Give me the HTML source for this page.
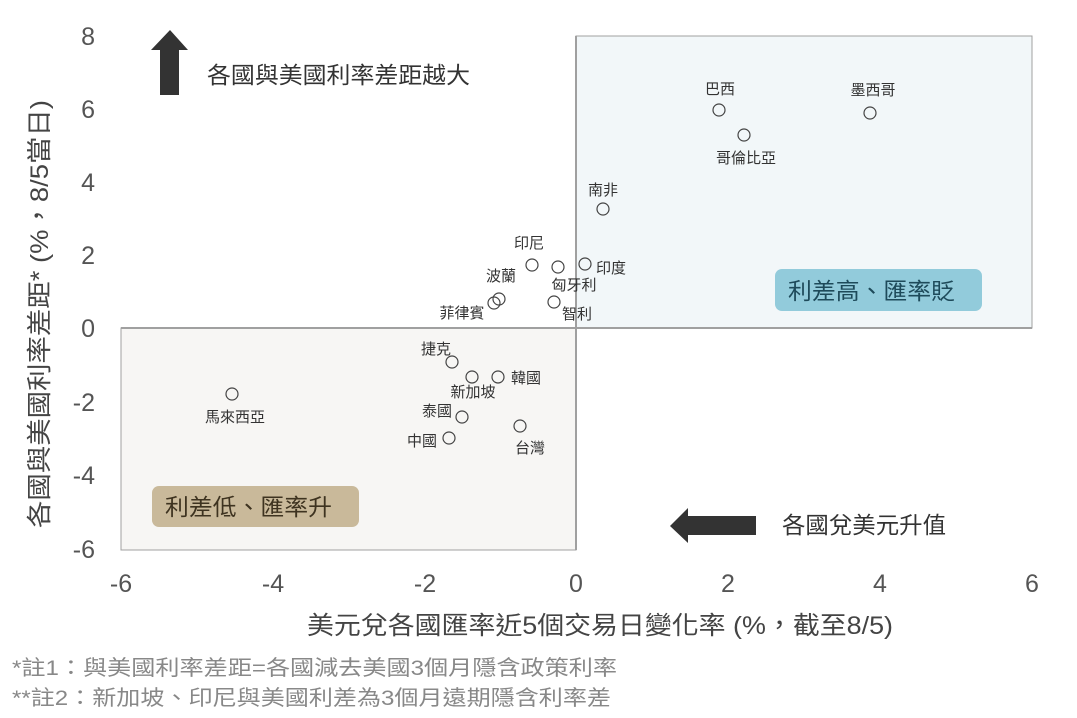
<!DOCTYPE html>
<html><head><meta charset="utf-8"><style>
html,body{margin:0;padding:0;background:#fff;}
svg{display:block;font-family:"Liberation Sans","Noto Sans CJK TC",sans-serif;}
</style></head><body>
<svg width="1077" height="718" viewBox="0 0 1077 718" xmlns="http://www.w3.org/2000/svg">
<rect x="576" y="36" width="456" height="292" fill="#f2f7f9" stroke="#a0a0a0" stroke-width="1"/>
<rect x="121" y="328" width="455" height="222" fill="#f7f6f4" stroke="#a0a0a0" stroke-width="1"/>
<line x1="121" y1="328" x2="1032" y2="328" stroke="#a0a0a0" stroke-width="2"/>
<line x1="576" y1="36" x2="576" y2="550" stroke="#a0a0a0" stroke-width="2"/>
<g fill="#555" font-size="25" text-anchor="end">
<text x="95" y="45">8</text><text x="95" y="118">6</text><text x="95" y="191">4</text><text x="95" y="264">2</text><text x="95" y="337">0</text><text x="95" y="411">-2</text><text x="95" y="484">-4</text><text x="95" y="558">-6</text>
</g>
<g fill="#555" font-size="25" text-anchor="middle">
<text x="121" y="592">-6</text><text x="273" y="592">-4</text><text x="425" y="592">-2</text><text x="576" y="592">0</text><text x="728" y="592">2</text><text x="880" y="592">4</text><text x="1032" y="592">6</text>
</g>
<text x="307" y="634" font-size="25" fill="#444" textLength="586" lengthAdjust="spacingAndGlyphs">美元兌各國匯率近5個交易日變化率 (%，截至8/5)</text>
<text transform="translate(48,528) rotate(-90)" font-size="25" fill="#444" textLength="428" lengthAdjust="spacingAndGlyphs">各國與美國利率差距* (%，8/5當日)</text>
<text x="12" y="675" font-size="21" fill="#888" textLength="605" lengthAdjust="spacingAndGlyphs">*註1：與美國利率差距=各國減去美國3個月隱含政策利率</text>
<text x="12" y="705" font-size="21" fill="#888" textLength="599" lengthAdjust="spacingAndGlyphs">**註2：新加坡、印尼與美國利差為3個月遠期隱含利率差</text>
<polygon points="170,30 188,50 179,50 179,95 160,95 160,50 151,50" fill="#333"/>
<text x="207" y="83" font-size="23" fill="#333" textLength="263" lengthAdjust="spacingAndGlyphs">各國與美國利率差距越大</text>
<polygon points="670,526 688,508 688,516 756,516 756,535 688,535 688,543" fill="#333"/>
<text x="782" y="533" font-size="23" fill="#333" textLength="164" lengthAdjust="spacingAndGlyphs">各國兌美元升值</text>
<rect x="775" y="269" width="207" height="42" rx="7" fill="#92cbdb"/>
<text x="788" y="299" font-size="23" fill="#1e4a5a" textLength="167" lengthAdjust="spacingAndGlyphs">利差高、匯率貶</text>
<rect x="152" y="486" width="207" height="41" rx="7" fill="#c9b99a"/>
<text x="165" y="515" font-size="23" fill="#3e3320" textLength="167" lengthAdjust="spacingAndGlyphs">利差低、匯率升</text>
<g fill="none" stroke="#444" stroke-width="1.2">
<circle cx="532" cy="265" r="6"/><circle cx="558" cy="267" r="6"/><circle cx="585" cy="264" r="6"/>
<circle cx="499" cy="299" r="6"/><circle cx="494" cy="303" r="6"/><circle cx="554" cy="302" r="6"/>
<circle cx="452" cy="362" r="6"/><circle cx="472" cy="377" r="6"/><circle cx="498" cy="377" r="6"/>
<circle cx="462" cy="417" r="6"/><circle cx="520" cy="426" r="6"/><circle cx="449" cy="438" r="6"/>
<circle cx="232" cy="394" r="6"/><circle cx="719" cy="110" r="6"/><circle cx="744" cy="135" r="6"/>
<circle cx="870" cy="113" r="6"/><circle cx="603" cy="209" r="6"/>
</g>
<g font-size="15" fill="#333" text-anchor="middle">
<text x="529" y="248">印尼</text><text x="611" y="273">印度</text><text x="574" y="290">匈牙利</text>
<text x="501" y="281">波蘭</text><text x="462" y="318">菲律賓</text><text x="577" y="319">智利</text>
<text x="436" y="354">捷克</text><text x="473" y="397">新加坡</text><text x="526" y="383">韓國</text>
<text x="437" y="416">泰國</text><text x="422" y="446">中國</text><text x="530" y="453">台灣</text>
<text x="235" y="422">馬來西亞</text><text x="720" y="94">巴西</text><text x="873" y="95">墨西哥</text>
<text x="746" y="163">哥倫比亞</text><text x="603" y="195">南非</text>
</g>
</svg>
</body></html>
